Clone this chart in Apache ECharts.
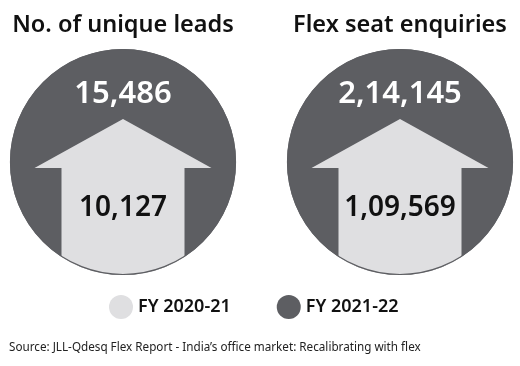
<!DOCTYPE html>
<html><head><meta charset="utf-8">
<script src="https://cdn.jsdelivr.net/npm/echarts@6/dist/echarts.min.js"></script>
<style>html,body{margin:0;padding:0;background:#fff}#c{width:520px;height:366px}</style>
</head><body><div id="c"></div>
<script>
const metrics = ["No. of unique leads", "Flex seat enquiries"];
const fy2021Labels = ["10,127", "1,09,569"];
const fy2122Labels = ["15,486", "2,14,145"];
const fy2021 = [10127, 109569];
const fy2122 = [15486, 214145];
const seriesNames = ["FY 2020-21", "FY 2021-22"];
const DARK = "#5d5e62", LIGHT = "#dfdfe1";
const FONT = "'Noto Sans', sans-serif";
const R = 113;

const chart = echarts.init(document.getElementById('c'), null, {renderer: 'canvas'});

function circleItem(params, api) {
  const p = api.coord([api.value(0), 0.5]);
  const idx = params.dataIndex;
  return {
    type: 'group',
    children: [
      {type: 'circle', shape: {cx: p[0], cy: p[1], r: R}, style: {fill: DARK}},
      {type: 'text', style: {text: fy2122Labels[idx], x: p[0], y: p[1] - 68, align: 'center', verticalAlign: 'middle',
        fill: '#ffffff', font: '600 31px ' + FONT}}
    ]
  };
}

function arrowItem(params, api) {
  const p = api.coord([api.value(0), 0.5]);
  const cx = p[0], cy = p[1], idx = params.dataIndex;
  const sw = 61.5, hw = 88.5, tip = -43, hb = 6;
  const yb = Math.sqrt(R * R - sw * sw);
  const pts = [[cx, cy + tip], [cx + hw, cy + hb], [cx + sw, cy + hb], [cx + sw, cy + yb]];
  const a0 = Math.atan2(yb, sw), a1 = Math.atan2(yb, -sw);
  for (let i = 1; i < 40; i++) {
    const a = a0 + (a1 - a0) * i / 40;
    pts.push([cx + R * Math.cos(a), cy + R * Math.sin(a)]);
  }
  pts.push([cx - sw, cy + yb], [cx - sw, cy + hb], [cx - hw, cy + hb]);
  return {
    type: 'group',
    children: [
      {type: 'polygon', shape: {points: pts}, style: {fill: LIGHT}},
      {type: 'circle', shape: {cx: cx, cy: cy, r: R - 0.5}, style: {fill: null, stroke: DARK, lineWidth: 1.2}},
      {type: 'text', style: {text: fy2021Labels[idx], x: cx, y: cy + 46, align: 'center', verticalAlign: 'middle',
        fill: '#111111', font: '600 28px ' + FONT}}
    ]
  };
}

chart.setOption({
  animation: false,
  textStyle: {fontFamily: FONT},
  title: {
    text: "Source: JLL-Qdesq Flex Report - India\u2019s office market: Recalibrating with flex",
    left: 4, top: 337,
    textStyle: {fontSize: 11.7, fontWeight: 'normal', color: '#222', fontFamily: FONT}
  },
  legend: {
    data: seriesNames, top: 290, left: 104, icon: 'circle', itemWidth: 24, itemHeight: 24, itemGap: 46,
    textStyle: {fontSize: 18, fontWeight: 600, color: '#111', fontFamily: FONT}
  },
  grid: {left: 123, right: 120, top: 49, bottom: 91},
  xAxis: {
    type: 'value', min: 0, max: 1, interval: 1, position: 'top',
    axisLine: {show: false}, axisTick: {show: false}, splitLine: {show: false},
    axisLabel: {show: true, showMinLabel: true, showMaxLabel: true, margin: 12,
      formatter: v => metrics[Math.round(v)] || '',
      fontSize: 23.5, fontWeight: 600, color: '#111', fontFamily: FONT}
  },
  yAxis: {type: 'value', min: 0, max: 1, show: false},
  series: [
    {name: seriesNames[1], type: 'custom', color: DARK, renderItem: circleItem,
      data: fy2122.map((v, i) => [i, v])},
    {name: seriesNames[0], type: 'custom', color: LIGHT, renderItem: arrowItem,
      data: fy2021.map((v, i) => [i, v])}
  ]
});
</script></body></html>
